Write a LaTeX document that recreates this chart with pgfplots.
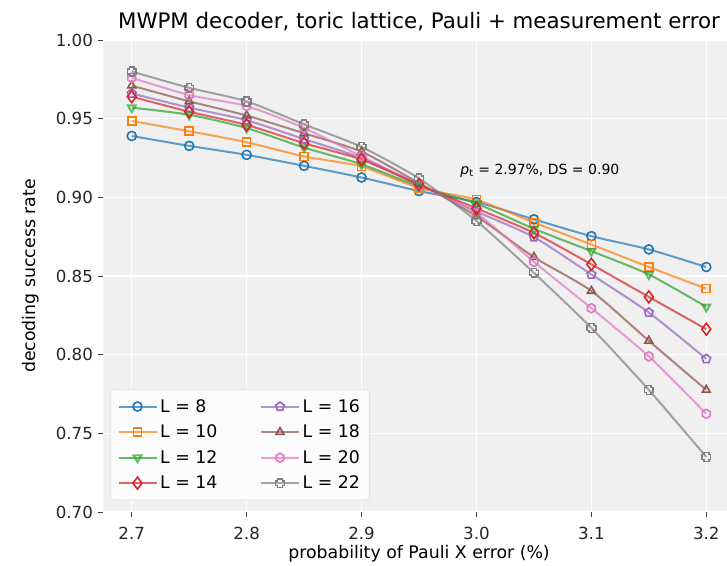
\documentclass[border=0pt]{standalone}
\usepackage{fontspec}
\setmainfont{DejaVu Sans}
\usepackage{pgfplots}
\pgfplotsset{compat=1.18}
\usepackage{pgfplotstable}

\definecolor{c1}{HTML}{1F77B4}
\definecolor{c2}{HTML}{FF7F0E}
\definecolor{c3}{HTML}{2CA02C}
\definecolor{c4}{HTML}{D62728}
\definecolor{c5}{HTML}{9467BD}
\definecolor{c6}{HTML}{8C564B}
\definecolor{c7}{HTML}{E377C2}
\definecolor{c8}{HTML}{7F7F7F}
\definecolor{panel}{HTML}{F0F0F0}

% hexagon and outlined plus marks
\pgfdeclareplotmark{hexa}{%
  \pgfpathmoveto{\pgfqpointpolar{90}{\pgfplotmarksize}}%
  \pgfpathlineto{\pgfqpointpolar{150}{\pgfplotmarksize}}%
  \pgfpathlineto{\pgfqpointpolar{210}{\pgfplotmarksize}}%
  \pgfpathlineto{\pgfqpointpolar{270}{\pgfplotmarksize}}%
  \pgfpathlineto{\pgfqpointpolar{330}{\pgfplotmarksize}}%
  \pgfpathlineto{\pgfqpointpolar{30}{\pgfplotmarksize}}%
  \pgfpathclose\pgfusepathqstroke}
\pgfdeclareplotmark{plusout}{%
  \pgfmathsetlengthmacro\r{\pgfplotmarksize}%
  \pgfmathsetlengthmacro\a{0.55*\pgfplotmarksize}%
  \pgfpathmoveto{\pgfqpoint{-\a}{\r}}%
  \pgfpathlineto{\pgfqpoint{\a}{\r}}%
  \pgfpathlineto{\pgfqpoint{\a}{\a}}%
  \pgfpathlineto{\pgfqpoint{\r}{\a}}%
  \pgfpathlineto{\pgfqpoint{\r}{-\a}}%
  \pgfpathlineto{\pgfqpoint{\a}{-\a}}%
  \pgfpathlineto{\pgfqpoint{\a}{-\r}}%
  \pgfpathlineto{\pgfqpoint{-\a}{-\r}}%
  \pgfpathlineto{\pgfqpoint{-\a}{-\a}}%
  \pgfpathlineto{\pgfqpoint{-\r}{-\a}}%
  \pgfpathlineto{\pgfqpoint{-\r}{\a}}%
  \pgfpathlineto{\pgfqpoint{-\a}{\a}}%
  \pgfpathclose\pgfusepathqstroke}

\pgfplotstableread{
x     L8     L10    L12    L14    L16    L18    L20    L22
2.70  0.939  0.9485 0.957  0.964  0.966  0.971  0.976  0.980
2.75  0.9327 0.942  0.9525 0.9544 0.957  0.961  0.965  0.9696
2.80  0.927  0.935  0.944  0.946  0.949  0.952  0.958  0.961
2.85  0.920  0.926  0.9316 0.9344 0.937  0.9407 0.944  0.9464
2.90  0.9126 0.9196 0.921  0.924  0.925  0.929  0.926  0.932
2.95  0.904  0.906  0.907  0.908  0.908  0.909  0.908  0.912
3.00  0.897  0.8985 0.896  0.893  0.891  0.888  0.890  0.885
3.05  0.886  0.884  0.880  0.8774 0.8747 0.862  0.859  0.852
3.10  0.8753 0.870  0.8658 0.8574 0.851  0.8405 0.8295 0.817
3.15  0.8669 0.8557 0.851  0.8367 0.8268 0.8088 0.7989 0.7776
3.20  0.8557 0.842  0.8304 0.8162 0.7973 0.7776 0.7624 0.735
}\dec

\begin{document}
\begin{tikzpicture}
\begin{axis}[
  scale only axis,
  width=474pt, height=354pt,
  xmin=2.675, xmax=3.225, ymin=0.70, ymax=1.00,
  xtick={2.7,2.8,...,3.2},
  ytick={0.70,0.75,...,1.00},
  tick label style={font=\fontsize{12.5}{14}\selectfont, text=black!85},
  xticklabel style={yshift=-4pt, /pgf/number format/.cd,fixed,fixed zerofill,precision=1},
  yticklabel style={/pgf/number format/.cd,fixed,fixed zerofill,precision=2},
  /pgf/number format/assume math mode=true,
  axis line style={draw=none},
  axis background/.style={fill=panel},
  grid=major,
  major grid style={white, line width=1.1pt},
  tick align=outside,
  major tick length=4pt,
  tick style={black!75, line width=0.6pt},
  xtick pos=bottom, ytick pos=left,
  title={MWPM decoder, toric lattice, Pauli + measurement error},
  title style={font=\fontsize{16}{18}\selectfont, yshift=-3pt},
  xlabel={probability of Pauli X error (\%)},
  ylabel={decoding success rate},
  label style={font=\fontsize{13}{15}\selectfont},
  xlabel style={yshift=3pt},
  ylabel style={yshift=6pt},
  legend columns=2,
  legend cell align=left,
  legend style={at={(0.012,0.025)}, anchor=south west,
    font=\fontsize{13}{15}\selectfont, fill=white, fill opacity=0.85,
    text opacity=1, draw=black!15, rounded corners=2pt,
    /tikz/every even column/.append style={column sep=30pt},
    row sep=4pt, inner sep=5pt},
  legend image code/.code={%
    \draw[mark repeat=2,mark phase=2,#1] plot coordinates {(0cm,0cm) (0.5cm,0cm) (1.0cm,0cm)};},
  every axis plot/.append style={line width=1.5pt, draw opacity=0.7,
    mark options={solid, line width=1.2pt, draw opacity=1}},
]
\coordinate (bl) at (rel axis cs:0,0);
% plotted in legend order (two columns: 8..14 left, 16..22 right)
\addplot[c1, smooth, tension=0.4, mark=o, mark size=3.4pt] table[x=x,y=L8] {\dec};
\addlegendentry{L = 8}
\addplot[c5, smooth, tension=0.4, mark=pentagon, mark size=3.4pt] table[x=x,y=L16] {\dec};
\addlegendentry{L = 16}
\addplot[c2, smooth, tension=0.4, mark=square, mark size=3pt] table[x=x,y=L10] {\dec};
\addlegendentry{L = 10}
\addplot[c6, smooth, tension=0.4, mark=triangle, mark size=3.4pt] table[x=x,y=L18] {\dec};
\addlegendentry{L = 18}
\addplot[c3, smooth, tension=0.4, mark=triangle, mark options={rotate=180}, mark size=3.4pt] table[x=x,y=L12] {\dec};
\addlegendentry{L = 12}
\addplot[c7, smooth, tension=0.4, mark=hexa, mark size=3.4pt] table[x=x,y=L20] {\dec};
\addlegendentry{L = 20}
\addplot[c4, smooth, tension=0.4, mark=diamond, mark size=4.5pt] table[x=x,y=L14] {\dec};
\addlegendentry{L = 14}
\addplot[c8, smooth, tension=0.4, mark=plusout, mark size=3.3pt] table[x=x,y=L22] {\dec};
\addlegendentry{L = 22}
\node[anchor=west, font=\fontsize{10.5}{12}\selectfont] at (axis cs:2.982,0.917)
  {{\itshape p}\textsubscript{t} = 2.97\%, DS = 0.90};
\end{axis}
\pgfresetboundingbox
\path ([shift={(-77.25pt,-40.5pt)}]bl) rectangle ([shift={(468pt,384pt)}]bl);
\end{tikzpicture}
\end{document}
